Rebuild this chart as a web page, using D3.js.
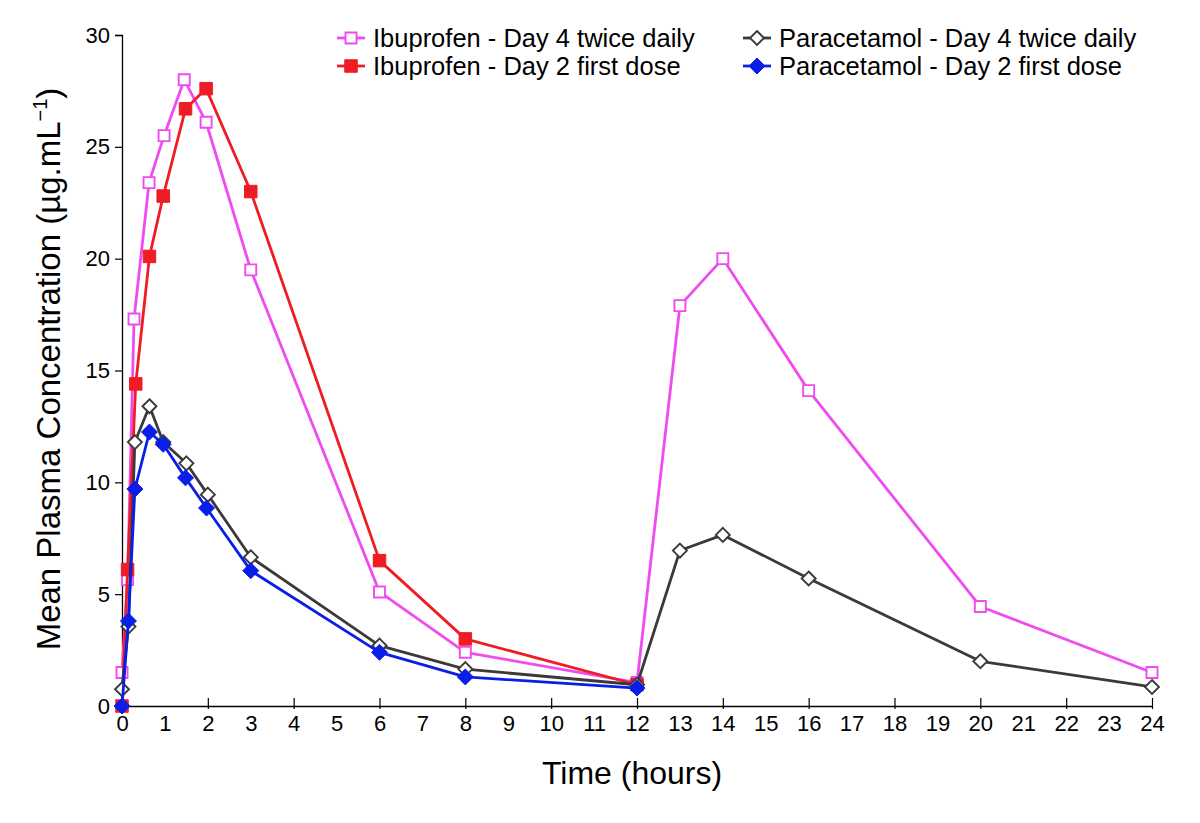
<!DOCTYPE html>
<html>
<head>
<meta charset="utf-8">
<script src="https://cdn.jsdelivr.net/npm/d3@7/dist/d3.min.js"></script>
<style>
  body { margin: 0; background: #fff; }
  svg { display: block; font-family: "Liberation Sans", Arial, sans-serif; }
</style>
</head>
<body>
<svg id="chart" width="1200" height="823"></svg>
<script>
// ---- Data ----
const ibuD4Time = [0, 0.13, 0.28, 0.63, 0.98, 1.45, 1.96, 3, 6, 8, 12, 13, 14, 16, 20, 24];
const ibuD4Conc = [1.5, 5.65, 17.3, 23.4, 25.5, 28.0, 26.1, 19.5, 5.1, 2.4, 1.05, 17.9, 20.0, 14.1, 4.45, 1.5];

const ibuD2Time = [0, 0.13, 0.32, 0.64, 0.96, 1.48, 1.96, 3, 6, 8, 12];
const ibuD2Conc = [0, 6.1, 14.4, 20.1, 22.8, 26.7, 27.6, 23.0, 6.5, 3.0, 0.95];

const parD4Time = [0, 0.15, 0.3, 0.64, 0.96, 1.5, 2.0, 3, 6, 8, 12, 13, 14, 16, 20, 24];
const parD4Conc = [0.75, 3.55, 11.8, 13.4, 11.8, 10.85, 9.45, 6.65, 2.7, 1.65, 0.95, 6.95, 7.65, 5.7, 2.0, 0.85];

const parD2Time = [0, 0.15, 0.3, 0.64, 0.96, 1.48, 1.97, 3, 6, 8, 12];
const parD2Conc = [0, 3.8, 9.7, 12.25, 11.7, 10.2, 8.85, 6.05, 2.4, 1.3, 0.8];

const seriesNames = [
  "Ibuprofen - Day 4 twice daily",
  "Ibuprofen - Day 2 first dose",
  "Paracetamol - Day 4 twice daily",
  "Paracetamol - Day 2 first dose"
];
const xTickValues = d3.range(0, 25, 1);
const yTickValues = [0, 5, 10, 15, 20, 25, 30];

// ---- Styles ----
const series = [
  { name: seriesNames[0], t: ibuD4Time, v: ibuD4Conc, color: "#f04bf0", shape: "square", fill: "#ffffff", size: 11 },
  { name: seriesNames[1], t: ibuD2Time, v: ibuD2Conc, color: "#ee1c25", shape: "square", fill: "#ee1c25", size: 12.5 },
  { name: seriesNames[2], t: parD4Time, v: parD4Conc, color: "#3a3a3a", shape: "diamond", fill: "#ffffff", size: 14 },
  { name: seriesNames[3], t: parD2Time, v: parD2Conc, color: "#0a1ee8", shape: "diamond", fill: "#0a1ee8", size: 16 }
];

const svg = d3.select("#chart");
const x = d3.scaleLinear().domain([0, 24]).range([122, 1152]);
const y = d3.scaleLinear().domain([0, 30]).range([706, 35]);

function markerPath(shape, s) {
  const h = s / 2;
  if (shape === "square") return `M${-h},${-h}H${h}V${h}H${-h}Z`;
  return `M0,${-h}L${h},0L0,${h}L${-h},0Z`;
}

// Axes
const yAxis = d3.axisLeft(y).tickValues(yTickValues).tickSize(7).tickPadding(5);
const gy = svg.append("g").attr("transform", `translate(${x(0)},0)`).call(yAxis);
gy.select(".domain").attr("stroke", "#000").attr("stroke-width", 1.3);
gy.selectAll(".tick line").attr("stroke", "#000").attr("stroke-width", 1.2);
gy.selectAll(".tick text").attr("font-size", 22).attr("fill", "#000")
  .attr("font-family", "Liberation Sans, Arial, sans-serif");

const xAxis = d3.axisBottom(x).tickValues(xTickValues).tickSize(0).tickPadding(9);
const gx = svg.append("g").attr("transform", `translate(0,${y(0)})`).call(xAxis);
gx.select(".domain").attr("stroke", "#000").attr("stroke-width", 1.3);
gx.selectAll(".tick text").attr("font-size", 22).attr("fill", "#000")
  .attr("font-family", "Liberation Sans, Arial, sans-serif");
gx.selectAll(".tick").filter(d => d % 2 === 0 && d !== 0)
  .append("line").attr("y1", -8).attr("y2", 3).attr("stroke", "#000").attr("stroke-width", 1.2);

// Axis titles
svg.append("text")
  .attr("x", 632).attr("y", 784)
  .attr("text-anchor", "middle").attr("font-size", 32).attr("fill", "#000")
  .text("Time (hours)");

const yt = svg.append("text")
  .attr("transform", `translate(60,${369}) rotate(-90)`)
  .attr("text-anchor", "middle").attr("font-size", 33).attr("fill", "#000");
yt.append("tspan").text("Mean Plasma Concentration (µg.mL");
yt.append("tspan").attr("font-size", 20).attr("dy", -13).text("−1");
yt.append("tspan").attr("dy", 13).text(")");

// Series
const line = d3.line().x(d => x(d[0])).y(d => y(d[1]));
series.forEach(s => {
  const pts = s.t.map((t, i) => [t, s.v[i]]);
  const g = svg.append("g");
  g.append("path").datum(pts).attr("d", line)
    .attr("fill", "none").attr("stroke", s.color).attr("stroke-width", 2.8)
    .attr("stroke-linejoin", "round");
  g.selectAll("path.m").data(pts).enter().append("path").attr("class", "m")
    .attr("transform", d => `translate(${x(d[0])},${y(d[1])})`)
    .attr("d", markerPath(s.shape, s.size))
    .attr("fill", s.fill).attr("stroke", s.color).attr("stroke-width", s.fill === "#ffffff" ? 1.9 : 1);
});

// Legend
const legendPos = [
  { lx: 337, ly: 38 }, { lx: 337, ly: 66 }, { lx: 743, ly: 38 }, { lx: 743, ly: 66 }
];
const legendOrder = [0, 1, 2, 3];
legendOrder.forEach((si, i) => {
  const s = series[si];
  const p = legendPos[i];
  const g = svg.append("g").attr("transform", `translate(${p.lx},${p.ly})`);
  g.append("line").attr("x1", 0).attr("x2", 28).attr("stroke", s.color).attr("stroke-width", 2.8);
  g.append("path").attr("transform", "translate(14,0)")
    .attr("d", markerPath(s.shape, s.size))
    .attr("fill", s.fill).attr("stroke", s.color).attr("stroke-width", s.fill === "#ffffff" ? 1.9 : 1);
  g.append("text").attr("x", 36).attr("y", 0).attr("dy", "0.35em")
    .attr("font-size", 25.5).attr("fill", "#000").text(s.name);
});
</script>
</body>
</html>
